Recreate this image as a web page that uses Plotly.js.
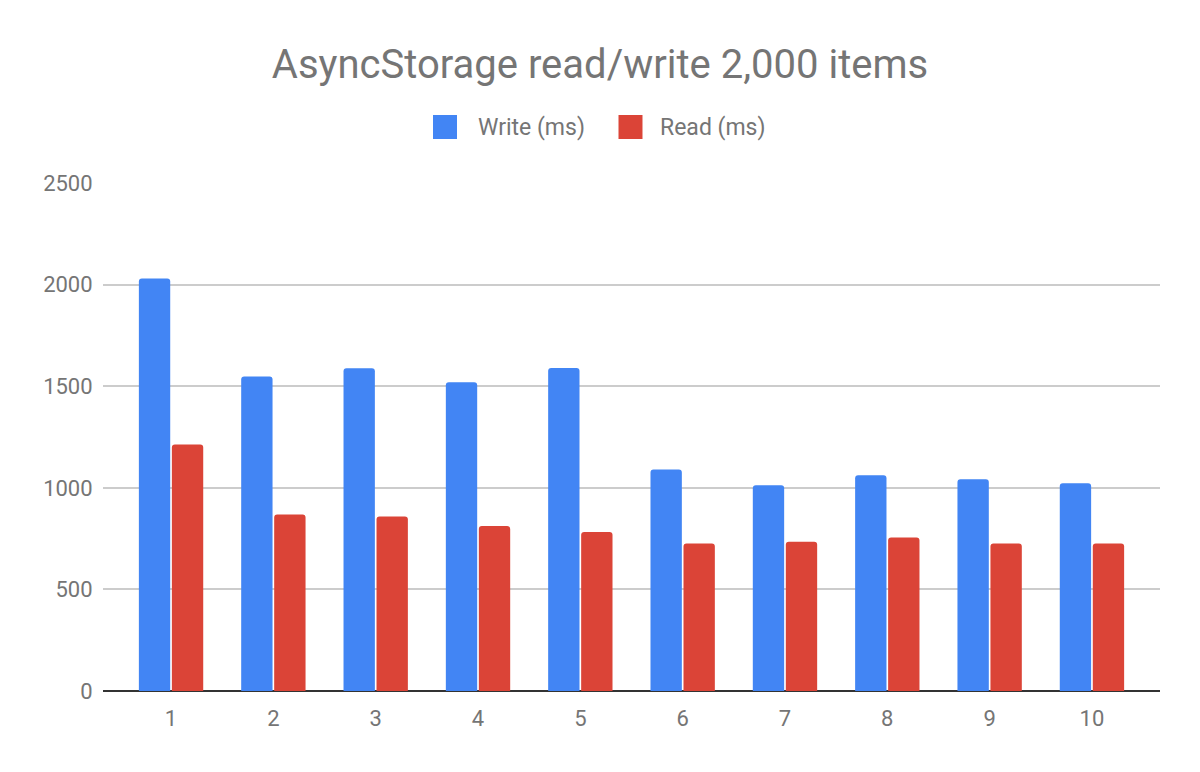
<!DOCTYPE html>
<html>
<head>
<meta charset="utf-8">
<script src="https://cdn.plot.ly/plotly-3.0.1.min.js"></script>
<style>html,body{margin:0;padding:0;background:#fff;}#chart{width:1200px;height:772px;}</style>
</head>
<body>
<div id="chart"></div>
<script>
const categories = ["1","2","3","4","5","6","7","8","9","10"];
const writeMs = [2030, 1548, 1588, 1520, 1590, 1090, 1012, 1062, 1042, 1022];
const readMs = [1213, 869, 859, 812, 782, 726, 735, 755, 726, 726];
const seriesNames = ["Write (ms)", "Read (ms)"];
const seriesColors = ["#4285F4", "#DB4437"];
const yTicks = [0, 500, 1000, 1500, 2000, 2500];

const FONT = "Roboto, 'Open Sans', sans-serif";
const GREY = "#757575";

const traces = [writeMs, readMs].map((vals, i) => ({
  type: "bar",
  name: seriesNames[i],
  x: categories,
  y: vals,
  marker: {color: seriesColors[i], cornerradius: 3},
  hoverinfo: "x+y+name"
}));

// custom legend (larger swatches like the reference)
const legendSwatchX = [0.3122, 0.4877];
const legendTextX = [0.3529, 0.5251];
const shapes = [];
const annotations = [];
seriesNames.forEach((n, i) => {
  shapes.push({
    type: "rect", xref: "paper", yref: "paper",
    x0: legendSwatchX[i], x1: legendSwatchX[i] + 0.0227,
    y0: 1.0866, y1: 1.1339,
    fillcolor: seriesColors[i], line: {width: 0}
  });
  annotations.push({
    xref: "paper", yref: "paper",
    x: legendTextX[i], y: 1.1102,
    xanchor: "left", yanchor: "middle",
    text: n, showarrow: false,
    font: {family: FONT, size: 23, color: GREY}
  });
});

const layout = {
  width: 1200, height: 772,
  paper_bgcolor: "#fff", plot_bgcolor: "#fff",
  margin: {l: 103, r: 40, t: 183, b: 81},
  title: {
    text: "AsyncStorage read/write 2,000 items",
    font: {family: FONT, size: 40, color: GREY},
    x: 0.5, xanchor: "center",
    y: 1 - 64/772, yanchor: "middle", yref: "container"
  },
  showlegend: false,
  barmode: "group",
  bargap: 0.355,
  bargroupgap: 0.05,
  xaxis: {
    type: "category",
    range: [-0.665, 9.665],
    showgrid: false,
    showline: false,
    zeroline: false,
    ticks: "outside", ticklen: 8, tickcolor: "rgba(0,0,0,0)",
    tickfont: {family: FONT, size: 22, color: GREY},
    fixedrange: true
  },
  yaxis: {
    range: [0, 2500],
    tickvals: yTicks,
    ticktext: yTicks.map(String),
    showgrid: true, gridcolor: "#cccccc", gridwidth: 1.5,
    zeroline: true, zerolinecolor: "#333333", zerolinewidth: 2,
    showline: false,
    ticks: "outside", ticklen: 5, tickcolor: "rgba(0,0,0,0)",
    tickfont: {family: FONT, size: 22, color: GREY},
    fixedrange: true
  },
  shapes: shapes,
  annotations: annotations
};

Plotly.newPlot("chart", traces, layout, {displayModeBar: false, staticPlot: false});
</script>
</body>
</html>
